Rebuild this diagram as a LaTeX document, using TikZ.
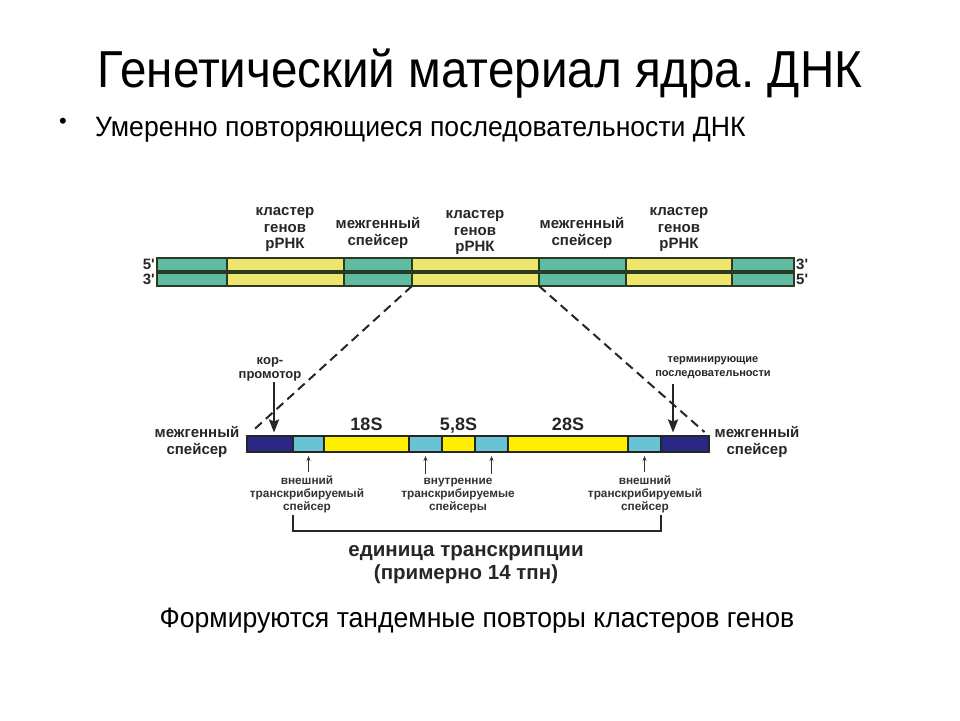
\documentclass[tikz,border=0pt]{standalone}
\usepackage{fontspec}
\setmainfont{Liberation Sans}
\newfontfamily\slidefont[FakeStretch=0.915]{Liberation Sans}
\newfontfamily\pointfont[FakeStretch=0.95]{Liberation Sans}
\usetikzlibrary{positioning,calc,arrows.meta}
\definecolor{dnateal}{RGB}{94,189,160}
\definecolor{dnayellow}{RGB}{238,230,108}
\definecolor{dnaedge}{RGB}{45,58,35}
\definecolor{rnavy}{RGB}{42,40,135}
\definecolor{rcyan}{RGB}{104,196,211}
\definecolor{ryellow}{RGB}{255,240,0}
\newcommand{\fsz}[2]{\fontsize{#1}{#2}\selectfont}
\frenchspacing

\begin{document}
\begin{tikzpicture}[x=1pt, y=-1pt,
    seg/.style={draw=dnaedge, line width=1.1pt, rectangle, inner sep=0pt, outer sep=0pt, anchor=west, minimum height=13pt},
    tl/.style={seg, fill=dnateal},
    ty/.style={seg, fill=dnayellow},
    rseg/.style={draw=black!85, line width=1.1pt, rectangle, inner sep=0pt, outer sep=0pt, anchor=west, minimum height=16pt},
    rn/.style={rseg, fill=rnavy},
    rc/.style={rseg, fill=rcyan},
    ry/.style={rseg, fill=ryellow},
    lab/.style={font=\bfseries\fsz{15}{16.5}, align=center, inner sep=0pt, text=black!85},
    small/.style={font=\bfseries\fsz{11.8}{13}, align=center, inner sep=0pt, text=black!80},
    endlab/.style={font=\bfseries\fsz{15}{16}, inner sep=0pt, text=black!85},
    sizelab/.style={font=\bfseries\fsz{18}{20}, inner sep=0pt, anchor=base, text=black!85},
    zoomline/.style={dash pattern=on 9pt off 5.5pt, line width=2pt, black!85},
    bigarrow/.style={-{Stealth[length=13pt, width=10pt, inset=2pt]}, line width=2.4pt, black!85},
    smallarrow/.style={-{Stealth[length=5pt, width=4pt]}, line width=0.8pt, black!80},
    bracket/.style={line width=1.5pt, black!85}
]
\fill[white] (0,0) rectangle (960,720);
\useasboundingbox (0,0) rectangle (960,720);

% Заголовок
\node[font=\slidefont\fsz{52}{60}, anchor=base, inner sep=0pt] (title) at (480,87) {Генетический материал ядра. ДНК};
\node[font=\fsz{22}{24}, anchor=base, inner sep=0pt] (dot) at (63,128) {•};
\node[font=\pointfont\fsz{28}{32}, anchor=base west, inner sep=0pt] (point) at (95,136) {Умеренно повторяющиеся последовательности ДНК};

% Двойная цепь ДНК
\node[tl, minimum width=70pt]  (s1a) at (157,264.5) {};
\node[ty, minimum width=117pt] (s1b) at (227,264.5) {};
\node[tl, minimum width=68pt]  (s1c) at (344,264.5) {};
\node[ty, minimum width=127pt] (s1d) at (412,264.5) {};
\node[tl, minimum width=87pt]  (s1e) at (539,264.5) {};
\node[ty, minimum width=106pt] (s1f) at (626,264.5) {};
\node[tl, minimum width=62pt]  (s1g) at (732,264.5) {};

\node[tl, minimum width=70pt]  (s2a) at (157,279.5) {};
\node[ty, minimum width=117pt] (s2b) at (227,279.5) {};
\node[tl, minimum width=68pt]  (s2c) at (344,279.5) {};
\node[ty, minimum width=127pt] (s2d) at (412,279.5) {};
\node[tl, minimum width=87pt]  (s2e) at (539,279.5) {};
\node[ty, minimum width=106pt] (s2f) at (626,279.5) {};
\node[tl, minimum width=62pt]  (s2g) at (732,279.5) {};

\node[endlab, left=2pt of s1a] (e5l) {5\textquotesingle};
\node[endlab, left=2pt of s2a] (e3l) {3\textquotesingle};
\node[endlab, right=2pt of s1g] (e3r) {3\textquotesingle};
\node[endlab, right=2pt of s2g] (e5r) {5\textquotesingle};

\node[lab] (clus1) at (285,230) {кластер\\генов\\рРНК};
\node[lab] (spc1)  at (378,233) {межгенный\\спейсер};
\node[lab] (clus2) at (475,233) {кластер\\генов\\рРНК};
\node[lab] (spc2)  at (582,233) {межгенный\\спейсер};
\node[lab] (clus3) at (679,230) {кластер\\генов\\рРНК};

% Единица транскрипции
\node[rn, minimum width=46pt]  (u1) at (247,444) {};
\node[rc, minimum width=31pt]  (u2) at (293,444) {};
\node[ry, minimum width=85pt]  (u3) at (324,444) {};
\node[rc, minimum width=33pt]  (u4) at (409,444) {};
\node[ry, minimum width=33pt]  (u5) at (442,444) {};
\node[rc, minimum width=33pt]  (u6) at (475,444) {};
\node[ry, minimum width=120pt] (u7) at (508,444) {};
\node[rc, minimum width=33pt]  (u8) at (628,444) {};
\node[rn, minimum width=48pt]  (u9) at (661,444) {};

\draw[zoomline, shorten >=6pt] (s2c.south east) -- (u1.north west);
\draw[zoomline, shorten >=6pt] (s2d.south east) -- (u9.north east);

\node[sizelab] (r18) at ([yshift=6pt]u3.north) {18S};
\node[sizelab] (r58) at ([yshift=6pt]u5.north) {5,8S};
\node[sizelab] (r28) at ([yshift=6pt]u7.north) {28S};

\node[lab] (igsl) at (197,442) {межгенный\\спейсер};
\node[lab] (igsr) at (757,442) {межгенный\\спейсер};

\node[font=\bfseries\fsz{13}{14}, align=center, inner sep=0pt, text=black!85] (prom) at (270,369) {кор-\\промотор};
\node[font=\bfseries\fsz{11}{14}, align=center, inner sep=0pt, text=black!85] (term) at (713,368) {терминирующие\\последовательности};
\coordinate (promtop) at (274,382);
\coordinate (termtop) at (673,384);
\draw[bigarrow, shorten >=3.5pt] (promtop) -- (promtop |- u1.north);
\draw[bigarrow, shorten >=3.5pt] (termtop) -- (termtop |- u9.north);

\node[small] (ets1) at (307,494.5) {внешний\\транскрибируемый\\спейсер};
\node[small] (its)  at (458,495.5) {внутренние\\транскрибируемые\\спейсеры};
\node[small] (ets2) at (645,494.5) {внешний\\транскрибируемый\\спейсер};

\draw[smallarrow, shorten <=4pt, shorten >=4pt] (u2.south |- ets1.north) -- (u2.south);
\draw[smallarrow, shorten <=4pt, shorten >=4pt] (u4.south |- its.north) -- (u4.south);
\draw[smallarrow, shorten <=4pt, shorten >=4pt] (u6.south |- its.north) -- (u6.south);
\draw[smallarrow, shorten <=4pt, shorten >=4pt] (u8.south |- ets2.north) -- (u8.south);

\coordinate (brl) at ($(u2.south west)+(0,63)$);
\coordinate (brr) at ($(u8.south east)+(0,63)$);
\draw[bracket] (brl) -- ++(0,16) -| (brr);

\node[font=\bfseries\fsz{20.5}{23}, align=center, inner sep=0pt, text=black!85] (unit) at (466,565) {единица транскрипции\\(примерно 14 тпн)};

\node[font=\pointfont\fsz{28}{32}, anchor=base, inner sep=0pt] (concl) at (477,627) {Формируются тандемные повторы кластеров генов};
\end{tikzpicture}
\end{document}
